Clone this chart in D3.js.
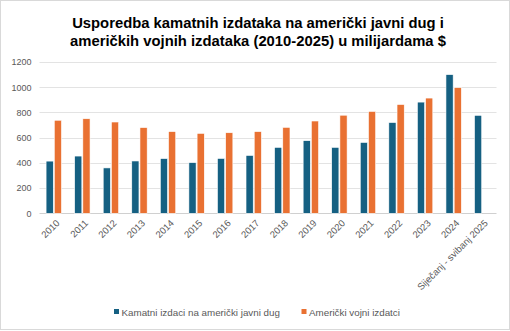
<!DOCTYPE html>
<html>
<head>
<meta charset="utf-8">
<script src="https://cdn.jsdelivr.net/npm/d3@7"></script>
<style>
  html, body { margin: 0; padding: 0; background: #fff; }
  svg { display: block; font-family: "Liberation Sans", Arial, sans-serif; }
</style>
</head>
<body>
<svg id="chart" width="510" height="331"></svg>
<script>
// Categories (years) and series, in billions of USD
const categories = ["2010", "2011", "2012", "2013", "2014", "2015", "2016", "2017",
  "2018", "2019", "2020", "2021", "2022", "2023", "2024", "Siječanj - svibanj 2025"];
const interestSpending = [414, 454, 360, 415, 434, 402, 435, 459, 523, 576, 523, 562, 720, 882, 1100, 777];
const militarySpending = [738, 750, 724, 680, 648, 634, 639, 648, 682, 732, 778, 808, 863, 914, 997, null];
const seriesNames = ["Kamatni izdaci na američki javni dug", "Američki vojni izdatci"];
const yTicks = [0, 200, 400, 600, 800, 1000, 1200];
const titleLines = ["Usporedba kamatnih izdataka na američki javni dug i",
  "američkih vojnih izdataka (2010-2025) u milijardama $"];

const colors = ["#156082", "#E97132"];
const svg = d3.select("#chart");
const W = 510, H = 331;
const margin = { left: 39.5, right: 13.5 };

// outer frame
svg.append("rect")
  .attr("x", 0.5).attr("y", 0.5).attr("width", W - 1).attr("height", H - 2)
  .attr("fill", "#fff").attr("stroke", "#d9d9d9");

// title
svg.append("g").selectAll("text").data(titleLines).join("text")
  .attr("x", 258).attr("y", (d, i) => 28 + i * 18)
  .attr("text-anchor", "middle")
  .attr("font-size", 14.8).attr("font-weight", "bold").attr("fill", "#000")
  .text(d => d);

const x0 = d3.scaleBand().domain(categories)
  .range([margin.left, W - margin.right]).paddingInner(0).paddingOuter(0);
const y = d3.scaleLinear().domain([0, 1200]).range([213.3, 62]);

// gridlines
svg.append("g").selectAll("line").data(yTicks).join("line")
  .attr("x1", margin.left).attr("x2", W - margin.right)
  .attr("y1", d => Math.round(y(d)) + 0.5).attr("y2", d => Math.round(y(d)) + 0.5)
  .attr("stroke", d => d === 0 ? "#d0d0d0" : "#e3e3e3").attr("stroke-width", 1);

// y axis labels
const yAxis = d3.axisLeft(y).tickValues(yTicks).tickFormat(d3.format("d")).tickSize(0).tickPadding(0);
const gy = svg.append("g").attr("transform", `translate(${margin.left - 8},0)`).call(yAxis);
gy.select(".domain").remove();
gy.selectAll("text").attr("font-size", 9).attr("fill", "#595959")
  .attr("font-family", "Liberation Sans, Arial, sans-serif");

// bars
const barW = 7.2;
const series = [interestSpending, militarySpending];
series.forEach((vals, si) => {
  svg.append("g").selectAll("rect")
    .data(categories.map((c, i) => ({ c, v: vals[i] })).filter(d => d.v != null))
    .join("rect")
    .attr("x", d => x0(d.c) + x0.bandwidth() / 2 - barW - 0.5 + si * (barW + 1))
    .attr("width", barW)
    .attr("y", d => y(d.v))
    .attr("height", d => y(0) - y(d.v))
    .attr("fill", colors[si])
    .attr("stroke", "#fff").attr("stroke-width", 0.6);
});

// x axis labels (rotated)
const xAxis = d3.axisBottom(x0).tickSize(0).tickPadding(0);
const gx = svg.append("g").attr("transform", `translate(0,${y(0)})`).call(xAxis);
gx.select(".domain").remove();
gx.selectAll("text")
  .attr("font-size", 9.5).attr("fill", "#595959")
  .attr("font-family", "Liberation Sans, Arial, sans-serif")
  .attr("text-anchor", "end")
  .attr("dy", "0.35em")
  .attr("transform", "translate(4,8) rotate(-45)");

// legend
const legendItems = [
  { name: seriesNames[0], color: colors[0], x: 114 },
  { name: seriesNames[1], color: colors[1], x: 301.5 }
];
const lg = svg.append("g");
legendItems.forEach(it => {
  lg.append("rect").attr("x", it.x).attr("y", 309).attr("width", 5).attr("height", 5)
    .attr("fill", it.color);
  lg.append("text").attr("x", it.x + 7.5).attr("y", 315.5)
    .attr("font-size", 9.8).attr("fill", "#595959").text(it.name);
});
</script>
</body>
</html>
